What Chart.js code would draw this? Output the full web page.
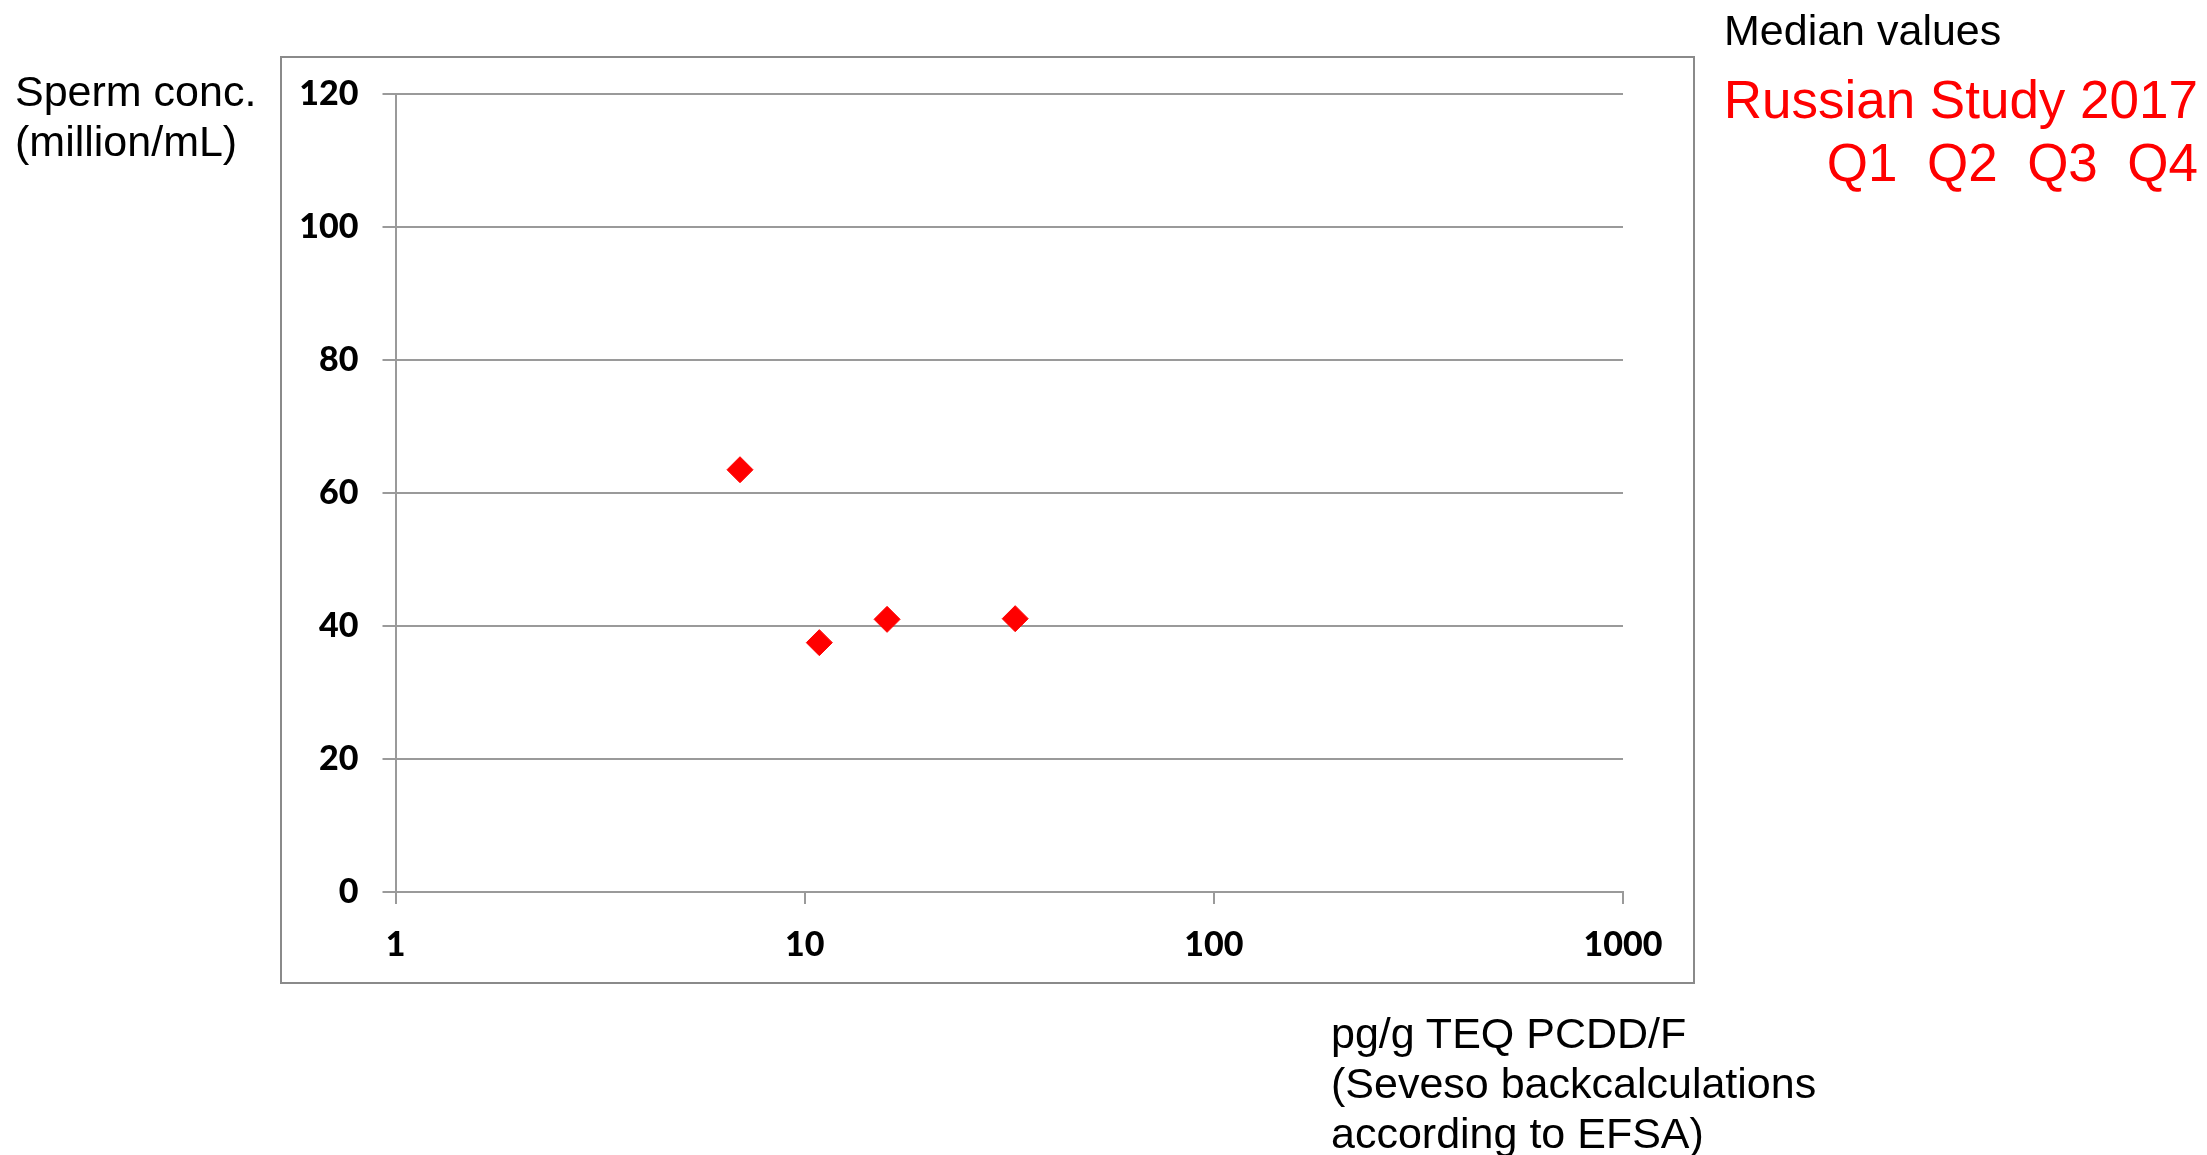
<!DOCTYPE html>
<html>
<head>
<meta charset="utf-8">
<script src="https://cdn.jsdelivr.net/npm/chart.js@4.4.1/dist/chart.umd.min.js"></script>
<style>
  html, body { margin: 0; padding: 0; background: #fff; }
  body { width: 2207px; height: 1155px; position: relative; overflow: hidden; font-family: "Liberation Sans", Arial, sans-serif; }
  #frame { position: absolute; left: 280px; top: 56px; width: 1411px; height: 924px; border: 2px solid #8a8a8a; }
  #chart { position: absolute; left: 0; top: 0; }
  .note { position: absolute; white-space: pre; color: #000; font-size: 43px; line-height: 50px; }
  .red { color: #ff0000; font-size: 53px; line-height: 63px; text-align: right; }
</style>
</head>
<body>
<div id="frame"></div>
<canvas id="chart" width="2207" height="1155"></canvas>

<div class="note" style="left:15px; top:66px;">Sperm conc.
(million/mL)</div>
<div class="note" style="left:1724px; top:5px;">Median values</div>
<div class="note red" style="right:9px; top:68px;">Russian Study 2017
Q1  Q2  Q3  Q4</div>
<div class="note" style="left:1331px; top:1008px;">pg/g TEQ PCDD/F
(Seveso backcalculations
according to EFSA)</div>

<script>
// Médianes par quartile (Russian Study 2017)
const quartiles = ['Q1', 'Q2', 'Q3', 'Q4'];
const teqValues = [6.95, 10.86, 15.9, 32.7];      // pg/g TEQ PCDD/F
const spermConc = [63.5, 37.5, 41.0, 41.1];       // million/mL
const xTicks = [1, 10, 100, 1000];
const yTicks = [0, 20, 40, 60, 80, 100, 120];

const points = quartiles.map((q, i) => ({ x: teqValues[i], y: spermConc[i] }));

const gridGray = '#9a9a9a';
const tickFont = { family: 'Lato', weight: '900', size: 34 };

const ctx = document.getElementById('chart').getContext('2d');
const chart = new Chart(ctx, {
    type: 'scatter',
    data: {
        datasets: [{
            label: 'Russian Study 2017',
            data: points,
            pointStyle: 'rectRot',
            pointRadius: 13,
            pointHoverRadius: 13,
            backgroundColor: '#ff0000',
            borderColor: '#ff0000',
            borderWidth: 1
        }]
    },
    options: {
        responsive: false,
        animation: false,
        layout: {
            padding: { left: 280, top: 94, right: 584, bottom: 183 }
        },
        plugins: {
            legend: { display: false },
            tooltip: { enabled: false }
        },
        scales: {
            x: {
                type: 'logarithmic',
                min: 1,
                max: 1000,
                afterBuildTicks: (scale) => {
                    scale.ticks = xTicks.map(v => ({ value: v }));
                },
                afterFit: (scale) => { scale.height = 80; },
                grid: {
                    drawOnChartArea: false,
                    drawTicks: true,
                    tickLength: 12,
                    color: gridGray,
                    lineWidth: 2
                },
                border: { display: true, color: gridGray, width: 2 },
                ticks: {
                    color: '#000',
                    font: tickFont,
                    padding: 21,
                    maxRotation: 0,
                    callback: (v) => String(v)
                }
            },
            y: {
                min: 0,
                max: 120,
                afterBuildTicks: (scale) => {
                    scale.ticks = yTicks.map(v => ({ value: v }));
                },
                afterFit: (scale) => { scale.width = 115.5; },
                grid: {
                    drawTicks: true,
                    tickLength: 13,
                    color: gridGray,
                    lineWidth: 2
                },
                border: { display: true, color: gridGray, width: 2 },
                ticks: {
                    color: '#000',
                    font: tickFont,
                    padding: 24
                }
            }
        }
    }
});
</script>
</body>
</html>
